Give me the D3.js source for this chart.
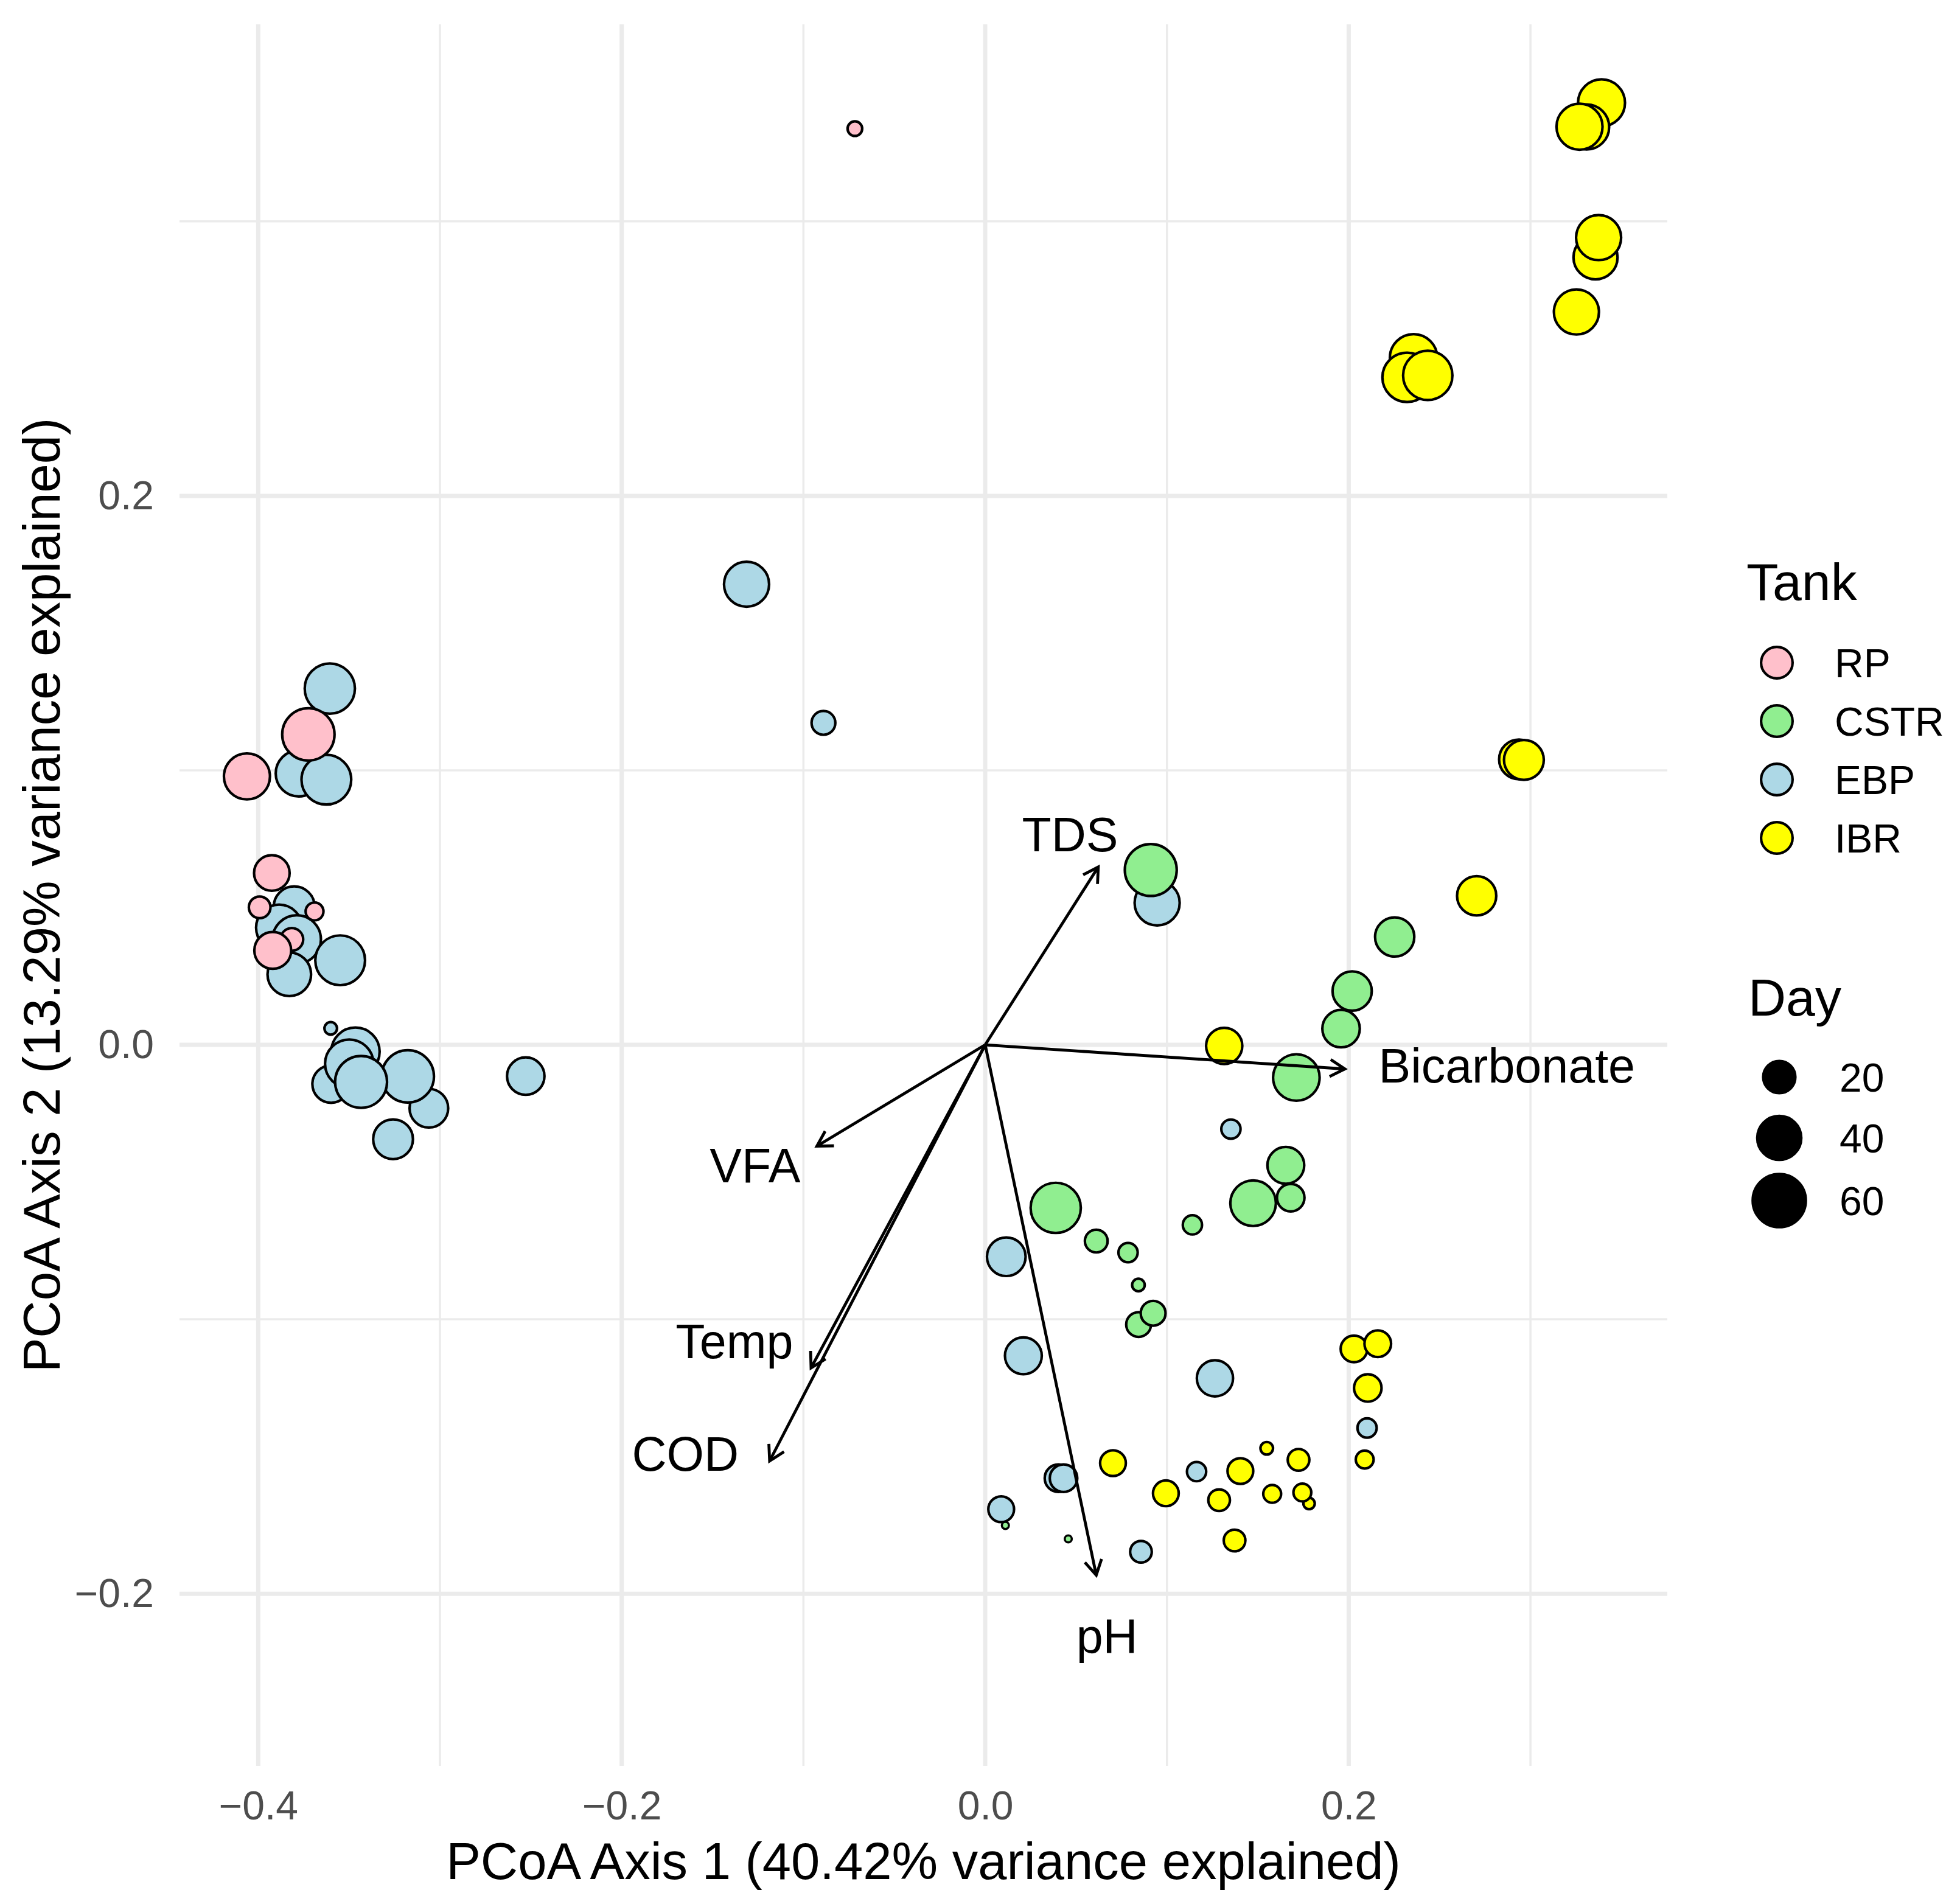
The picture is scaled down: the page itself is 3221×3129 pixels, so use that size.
<!DOCTYPE html>
<html lang="en">
<head>
    <meta charset="UTF-8">
    <title>PCoA with environmental vectors</title>
    <script src="https://d3js.org/d3.v7.min.js"></script>
    <style>
        body { margin: 0; background: #fff; }
        text { font-family: "Liberation Sans", Arial, Helvetica, sans-serif; }
    </style>
</head>
<body>
    <svg id="chart"></svg>
    <script>
        // sample points, listed in drawing order
        const tank = [
            "EBP","EBP","EBP","EBP","EBP","EBP","EBP","EBP",
            "EBP","EBP","EBP","EBP","EBP","EBP","EBP","EBP","EBP",
            "EBP","EBP",
            "EBP","EBP","EBP","EBP","EBP","EBP","EBP","EBP","EBP","EBP","EBP",
            "CSTR","CSTR","CSTR","CSTR","CSTR","CSTR","CSTR","CSTR","CSTR",
            "CSTR","CSTR","CSTR","CSTR","CSTR","CSTR","CSTR","CSTR",
            "RP","RP","RP","RP","RP","RP","RP","RP",
            "IBR","IBR","IBR","IBR","IBR","IBR","IBR","IBR","IBR",
            "IBR","IBR","IBR","IBR","IBR","IBR","IBR","IBR","IBR",
            "IBR","IBR","IBR","IBR","IBR","IBR","IBR","IBR","IBR"
        ];
        const axis1 = [
            -0.3802, -0.3885, -0.3788, -0.3829, -0.3549, -0.3606, -0.3777, -0.3625,
            -0.3061, -0.3465, -0.3599, -0.3499, -0.3177, -0.3434, -0.3601, -0.3258, -0.2528,
            -0.1313, -0.0890,
            0.0946, 0.1352, 0.0116, 0.0210, 0.1264, 0.2101, 0.0403, 0.0431, 0.1163, 0.0088, 0.0857,
            0.1958, 0.2019, 0.2253, 0.1712, 0.0911, 0.1681, 0.1654, 0.1474, 0.1140,
            0.0388, 0.0611, 0.0786, 0.0843, 0.0844, 0.0924, 0.0111, 0.0457,
            -0.3925, -0.3992, -0.3690, -0.3815, -0.3920, -0.3724, -0.4062, -0.0717,
            0.3391, 0.3309, 0.3270, 0.3358, 0.3375, 0.3253, 0.2357, 0.2321, 0.2435,
            0.2937, 0.2964, 0.2704, 0.1315, 0.2029, 0.2160, 0.2105, 0.2088, 0.1549,
            0.1724, 0.0703, 0.1404, 0.0994, 0.1287, 0.1579, 0.1782, 0.1745, 0.1372
        ];
        const axis2 = [
            0.0503, 0.0427, 0.0384, 0.0257, 0.0308, 0.1298, 0.0989, 0.0966,
            -0.0231, -0.0025, -0.0143, -0.0069, -0.0115, -0.0135, 0.0060, -0.0344, -0.0114,
            0.1678, 0.1173,
            0.0517, -0.0307, -0.0772, -0.1133, -0.1215, -0.1396, -0.1579, -0.1579, -0.1555, -0.1692, -0.1847,
            0.0059, 0.0196, 0.0393, -0.0119, 0.0637, -0.0557, -0.0439, -0.0577, -0.0656,
            -0.0594, -0.0715, -0.0757, -0.0875, -0.1019, -0.0978, -0.1751, -0.1800,
            0.0626, 0.0501, 0.0486, 0.0384, 0.0344, 0.1131, 0.0978, 0.3338,
            0.3432, 0.3344, 0.3345, 0.2869, 0.2941, 0.2670, 0.2503, 0.2432, 0.2439,
            0.1040, 0.1038, 0.0543, -0.0004, -0.1108, -0.1089, -0.1250, -0.1511, -0.1470,
            -0.1512, -0.1524, -0.1553, -0.1634, -0.1659, -0.1636, -0.1671, -0.1631, -0.1806
        ];
        const day = [
            34, 44, 49, 39, 52, 53, 44, 52,
            30, 49, 28, 49, 58, 57, 2, 32, 28,
            42, 10,
            42, 6, 30, 27, 26, 6, 14, 14, 6, 12, 8,
            28, 31, 31, 45, 57, 14, 27, 43, 6,
            53, 9, 6, 2, 11, 11, 0.3, 0.3,
            25, 8, 5, 9, 27, 58, 44, 3,
            46, 42, 44, 40, 42, 42, 47, 51, 51,
            32, 32, 31, 26, 13, 13, 14, 5, 2,
            8, 12, 12, 12, 8, 5, 1.5, 5, 8
        ];

        // environmental fit vectors
        const vecName = ["TDS", "Bicarbonate", "VFA", "Temp", "COD", "pH"];
        const vecX = [0.0622, 0.1979, -0.0926, -0.0958, -0.1186, 0.0611];
        const vecY = [0.0648, -0.0088, -0.0369, -0.1177, -0.1516, -0.1932];
        const labelX = [0.0467, 0.2870, -0.1266, -0.1380, -0.1650, 0.0670];
        const labelY = [0.0767, -0.0075, -0.0439, -0.1080, -0.1490, -0.2153];

        const tankLevels = ["RP", "CSTR", "EBP", "IBR"];
        const tankColors = ["pink", "lightgreen", "lightblue", "yellow"];
        const dayBreaks = [20, 40, 60];
        const xMajor = [-0.4, -0.2, 0.0, 0.2];
        const xMinor = [-0.3, -0.1, 0.1, 0.3];
        const yMajor = [-0.2, 0.0, 0.2];
        const yMinor = [-0.1, 0.1, 0.3];

        const W = 3221, H = 3129;
        const panel = { left: 295, right: 2740, top: 40, bottom: 2902 };

        const svg = d3.select("#chart")
                      .attr("width", W)
                      .attr("height", H);

        svg.append("rect")
           .attr("width", W)
           .attr("height", H)
           .attr("fill", "#fff");

        const x = d3.scaleLinear()
                    .domain([-0.4433, 0.3753])
                    .range([panel.left, panel.right]);

        const y = d3.scaleLinear()
                    .domain([-0.2627, 0.3718])
                    .range([panel.bottom, panel.top]);

        const color = d3.scaleOrdinal()
                        .domain(tankLevels)
                        .range(tankColors);

        const size = d3.scaleSqrt()
                       .domain([0, 63])
                       .range([5, 46.8]);

        const stroke = 4.2;
        const fmt = d3.format(".1f");

        // grid
        const grid = svg.append("g");
        grid.selectAll(".vminor")
            .data(xMinor)
            .enter()
            .append("line")
            .attr("x1", d => x(d)).attr("x2", d => x(d))
            .attr("y1", panel.top).attr("y2", panel.bottom)
            .attr("stroke", "#ebebeb").attr("stroke-width", 3.5);
        grid.selectAll(".hminor")
            .data(yMinor)
            .enter()
            .append("line")
            .attr("y1", d => y(d)).attr("y2", d => y(d))
            .attr("x1", panel.left).attr("x2", panel.right)
            .attr("stroke", "#ebebeb").attr("stroke-width", 3.5);
        grid.selectAll(".vmajor")
            .data(xMajor)
            .enter()
            .append("line")
            .attr("x1", d => x(d)).attr("x2", d => x(d))
            .attr("y1", panel.top).attr("y2", panel.bottom)
            .attr("stroke", "#ebebeb").attr("stroke-width", 7);
        grid.selectAll(".hmajor")
            .data(yMajor)
            .enter()
            .append("line")
            .attr("y1", d => y(d)).attr("y2", d => y(d))
            .attr("x1", panel.left).attr("x2", panel.right)
            .attr("stroke", "#ebebeb").attr("stroke-width", 7);

        // axes, text only (theme_minimal look)
        const xAxis = svg.append("g")
                         .attr("transform", `translate(0,${panel.bottom})`)
                         .call(d3.axisBottom(x).tickValues(xMajor).tickFormat(fmt).tickSize(0).tickPadding(41));
        const yAxis = svg.append("g")
                         .attr("transform", `translate(${panel.left},0)`)
                         .call(d3.axisLeft(y).tickValues(yMajor).tickFormat(fmt).tickSize(0).tickPadding(42));
        [xAxis, yAxis].forEach(a => {
            a.select(".domain").remove();
            a.selectAll("text")
             .style("font-family", "'Liberation Sans', Arial, sans-serif")
             .style("font-size", "66px")
             .attr("fill", "#4d4d4d");
        });

        svg.append("text")
           .attr("x", (panel.left + panel.right) / 2)
           .attr("y", 3088)
           .attr("text-anchor", "middle")
           .style("font-size", "85px")
           .text("PCoA Axis 1 (40.42% variance explained)");

        svg.append("text")
           .attr("transform", `translate(98,${(panel.top + panel.bottom) / 2}) rotate(-90)`)
           .attr("text-anchor", "middle")
           .style("font-size", "85px")
           .text("PCoA Axis 2 (13.29% variance explained)");

        // points
        const points = tank.map((t, i) => ({ tank: t, a1: axis1[i], a2: axis2[i], day: day[i] }));

        svg.append("g")
           .selectAll("circle")
           .data(points)
           .enter()
           .append("circle")
           .attr("cx", d => x(d.a1))
           .attr("cy", d => y(d.a2))
           .attr("r", d => Math.max(size(d.day) - stroke / 2, 2.2))
           .attr("fill", d => color(d.tank))
           .attr("stroke", "#000")
           .attr("stroke-width", d => Math.min(stroke, size(d.day) * 0.45));

        // vectors
        const vectors = vecName.map((n, i) => ({ name: n, vx: vecX[i], vy: vecY[i], lx: labelX[i], ly: labelY[i] }));
        const head = 28, ang = Math.PI / 6;
        const vg = svg.append("g");

        vg.selectAll(".shaft")
          .data(vectors)
          .enter()
          .append("line")
          .attr("x1", x(0)).attr("y1", y(0))
          .attr("x2", d => x(d.vx)).attr("y2", d => y(d.vy))
          .attr("stroke", "#000")
          .attr("stroke-width", 4.8);

        vg.selectAll(".head")
          .data(vectors)
          .enter()
          .append("path")
          .attr("d", d => {
              const tx = x(d.vx), ty = y(d.vy);
              const a = Math.atan2(ty - y(0), tx - x(0));
              const p1 = [tx - head * Math.cos(a - ang), ty - head * Math.sin(a - ang)];
              const p2 = [tx - head * Math.cos(a + ang), ty - head * Math.sin(a + ang)];
              return `M${p1[0]},${p1[1]}L${tx},${ty}L${p2[0]},${p2[1]}`;
          })
          .attr("fill", "none")
          .attr("stroke", "#000")
          .attr("stroke-width", 4.8)
          .attr("stroke-linejoin", "miter");

        vg.selectAll(".vlabel")
          .data(vectors)
          .enter()
          .append("text")
          .attr("x", d => x(d.lx))
          .attr("y", d => y(d.ly))
          .attr("dy", "0.35em")
          .attr("text-anchor", "middle")
          .style("font-size", "79px")
          .text(d => d.name);

        // legends
        const legend = svg.append("g");

        legend.append("text")
              .attr("x", 2870)
              .attr("y", 986)
              .style("font-size", "86px")
              .text("Tank");

        const tankKeys = legend.selectAll(".tkey")
                               .data(tankLevels)
                               .enter()
                               .append("g")
                               .attr("transform", (_, i) => `translate(2920,${1089 + 96 * i})`);
        tankKeys.append("circle")
                .attr("r", 28 - stroke / 2)
                .attr("fill", d => color(d))
                .attr("stroke", "#000")
                .attr("stroke-width", stroke);
        tankKeys.append("text")
                .attr("x", 95)
                .attr("dy", "0.36em")
                .style("font-size", "66px")
                .text(d => d);

        legend.append("text")
              .attr("x", 2873)
              .attr("y", 1669)
              .style("font-size", "86px")
              .text("Day");

        const dayY = [1770, 1870, 1973];
        const dayKeys = legend.selectAll(".dkey")
                              .data(dayBreaks)
                              .enter()
                              .append("g")
                              .attr("transform", (_, i) => `translate(2924,${dayY[i]})`);
        dayKeys.append("circle")
               .attr("r", d => size(d) - stroke / 2)
               .attr("fill", "#000")
               .attr("stroke", "#000")
               .attr("stroke-width", stroke);
        dayKeys.append("text")
               .attr("x", 99)
               .attr("dy", "0.36em")
               .style("font-size", "66px")
               .text(d => d);
    </script>
</body>
</html>
